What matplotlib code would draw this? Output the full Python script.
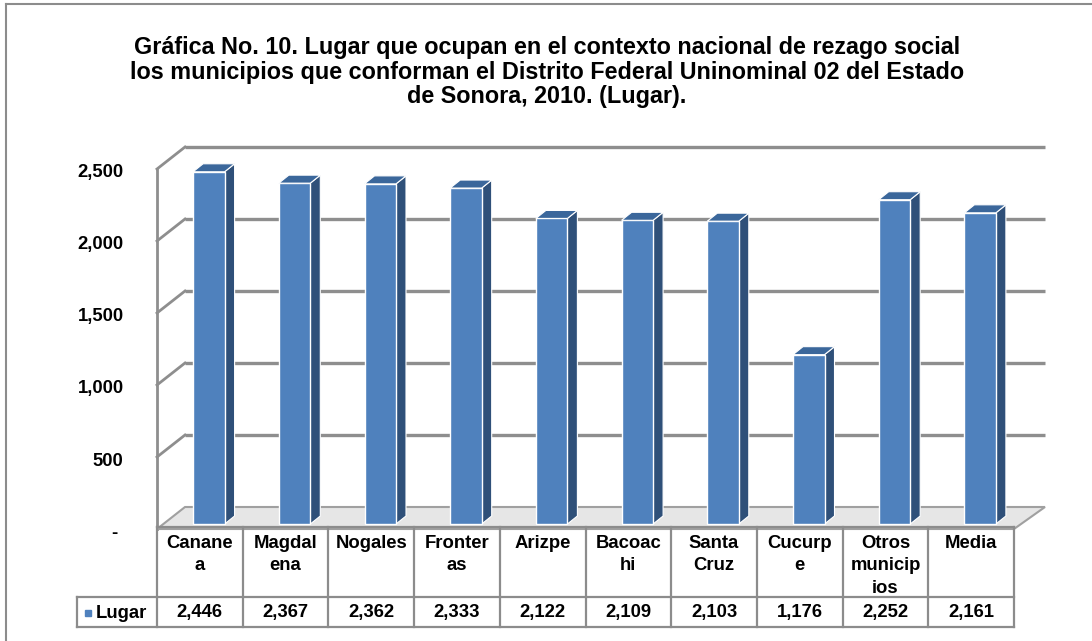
import matplotlib
matplotlib.use("Agg")
import matplotlib.pyplot as plt
from matplotlib.patches import Polygon
import matplotlib.transforms as mtransforms
import numpy as np

plt.rcParams['font.family'] = ['Liberation Sans', 'DejaVu Sans']
plt.rcParams['font.weight'] = 'bold'

# ---------------- data ----------------
categories = ["Canane\na", "Magdal\nena", "Nogales", "Fronter\nas", "Arizpe",
              "Bacoac\nhi", "Santa\nCruz", "Cucurp\ne", "Otros\nmunicip\nios", "Media"]
values = [2446, 2367, 2362, 2333, 2122, 2109, 2103, 1176, 2252, 2161]
value_labels = ["2,446", "2,367", "2,362", "2,333", "2,122", "2,109", "2,103", "1,176", "2,252", "2,161"]
series_name = "Lugar"
yticks = [0, 500, 1000, 1500, 2000, 2500]
ytick_labels = ["- ", "500", "1,000", "1,500", "2,000", "2,500"]
title = ("Gráfica No. 10. Lugar que ocupan en el contexto nacional de rezago social\n"
         "los municipios que conforman el Distrito Federal Uninominal 02 del Estado\n"
         "de Sonora, 2010. (Lugar).")

# ---------------- layout helpers ----------------
W, H = 1092, 641
fig = plt.figure(figsize=(W / 100, H / 100), dpi=100)
fig.patch.set_facecolor('white')

def fx(px):
    return px / W

def fy(py):
    return 1 - py / H

FS = 13.3
n = len(values)
ax_left, ax_right = 157, 1014
ax_front0, ax_top = 529, 140
px_per_cat = (ax_right - ax_left) / n
px_per_val = 360 / 2500
ymax = (ax_front0 - ax_top) / px_per_val

ax = fig.add_axes([fx(ax_left), fy(ax_front0), fx(ax_right - ax_left), (ax_front0 - ax_top) / H])
ax.set_xlim(-0.5, n - 0.5)
ax.set_ylim(0, ymax)
for s in ax.spines.values():
    s.set_visible(False)
ax.set_xticks([])
ax.set_facecolor('none')

# depth offsets (converted from pixels to data units)
DX = 28 / px_per_cat
DY = 22 / px_per_val
bar_dx_off = 9 / px_per_cat
bar_dy_off = 5 / px_per_val
bar_w = 31.5 / px_per_cat
bdx = 10 / px_per_cat
bdy = 8 / px_per_val

grid_col = '#8e8e8e'
# back wall gridlines
x_back0, x_back1 = -0.5 + DX, n - 0.5 + DX + 3 / px_per_cat
for v in yticks[1:]:
    ax.plot([x_back0, x_back1], [v + DY, v + DY], color=grid_col, lw=2.4,
            solid_capstyle='butt', zorder=1, clip_on=False)
    ax.plot([-0.5, x_back0], [v, v + DY], color=grid_col, lw=2.0, zorder=1, clip_on=False)
# left wall front vertical
ax.plot([-0.5, -0.5], [0, yticks[-1]], color=grid_col, lw=2.0, zorder=1, clip_on=False)

# floor
floor = Polygon([(-0.5, 0), (n - 0.5, 0), (x_back1, DY), (x_back0, DY)], closed=True,
                facecolor='#e6e6e6', edgecolor='#a0a0a0', lw=1.5, zorder=2, clip_on=False)
ax.add_patch(floor)

# bars (front faces via ax.bar, 3D faces from the same values)
xs = np.arange(n) + bar_dx_off
ax.bar(xs, values, width=bar_w, bottom=bar_dy_off, color='#4F81BD',
       edgecolor='white', linewidth=1.0, zorder=4)
for x, v in zip(xs, values):
    x0 = x - bar_w / 2
    x1 = x + bar_w / 2
    y0 = bar_dy_off
    y1 = bar_dy_off + v
    side = Polygon([(x1, y0), (x1 + bdx, y0 + bdy), (x1 + bdx, y1 + bdy), (x1, y1)],
                   closed=True, facecolor='#2F5079', edgecolor='white', lw=0.8, zorder=3)
    top = Polygon([(x0, y1), (x1, y1), (x1 + bdx, y1 + bdy), (x0 + bdx, y1 + bdy)],
                  closed=True, facecolor='#3B679B', edgecolor='white', lw=0.8, zorder=5)
    ax.add_patch(side)
    ax.add_patch(top)

# y tick labels
ax.set_yticks(yticks)
ax.set_yticklabels(ytick_labels, fontsize=FS, fontweight='bold')
ax.tick_params(axis='y', length=0, pad=24)
shift = mtransforms.ScaledTranslation(0, -2 / 100, fig.dpi_scale_trans)
for lbl in ax.get_yticklabels():
    lbl.set_transform(lbl.get_transform() + shift)

# ---------------- data table ----------------
t_top, t_mid, t_bot = 527, 597, 627
tax = fig.add_axes([fx(ax_left), fy(t_bot), fx(ax_right - ax_left), (t_bot - t_top) / H])
tax.set_xlim(-0.5, n - 0.5)
tax.set_ylim(0, t_bot - t_top)
tax.invert_yaxis()
tax.axis('off')
tcol = '#8c8c8c'
lab_left = -0.5 - (ax_left - 77) / px_per_cat
tlw = 1.6
tax.plot([-0.5, n - 0.5], [0, 0], color=tcol, lw=tlw, clip_on=False)
tax.plot([lab_left, n - 0.5], [t_mid - t_top] * 2, color=tcol, lw=tlw, clip_on=False)
tax.plot([lab_left, n - 0.5], [t_bot - t_top] * 2, color=tcol, lw=tlw, clip_on=False)
tax.plot([lab_left, lab_left], [t_mid - t_top, t_bot - t_top], color=tcol, lw=tlw, clip_on=False)
for b in np.arange(n + 1) - 0.5:
    tax.plot([b, b], [0, t_bot - t_top], color=tcol, lw=tlw, clip_on=False)

for i, (c, lab) in enumerate(zip(categories, value_labels)):
    tax.text(i, 8, c, ha='center', va='top', fontsize=FS, fontweight='bold',
             linespacing=1.42, clip_on=False)
    tax.text(i, (t_mid - t_top + t_bot - t_top) / 2 + 1, lab, ha='center', va='center',
             fontsize=FS, fontweight='bold', clip_on=False)

# legend key in row label
row_c = (t_mid - t_top + t_bot - t_top) / 2 + 1
key_x = -0.5 - (ax_left - 88) / px_per_cat
tax.plot([key_x], [row_c], marker='s', ms=5, color='#4F81BD', clip_on=False)
tax.text(-0.5 - (ax_left - 96) / px_per_cat, row_c, series_name, ha='left', va='center',
         fontsize=FS, fontweight='bold', clip_on=False)

# ---------------- title & frame ----------------
fig.text(fx(547), fy(72), title, ha='center', va='center', multialignment='center',
         fontsize=16.8, fontweight='bold', linespacing=1.07)
fig.add_artist(plt.Line2D([fx(6), fx(6)], [fy(4), 0], color='#8c8c8c', lw=1.5))
fig.add_artist(plt.Line2D([fx(6), 1], [fy(4), fy(4)], color='#8c8c8c', lw=1.5))

fig.savefig('out.png', dpi=100)
